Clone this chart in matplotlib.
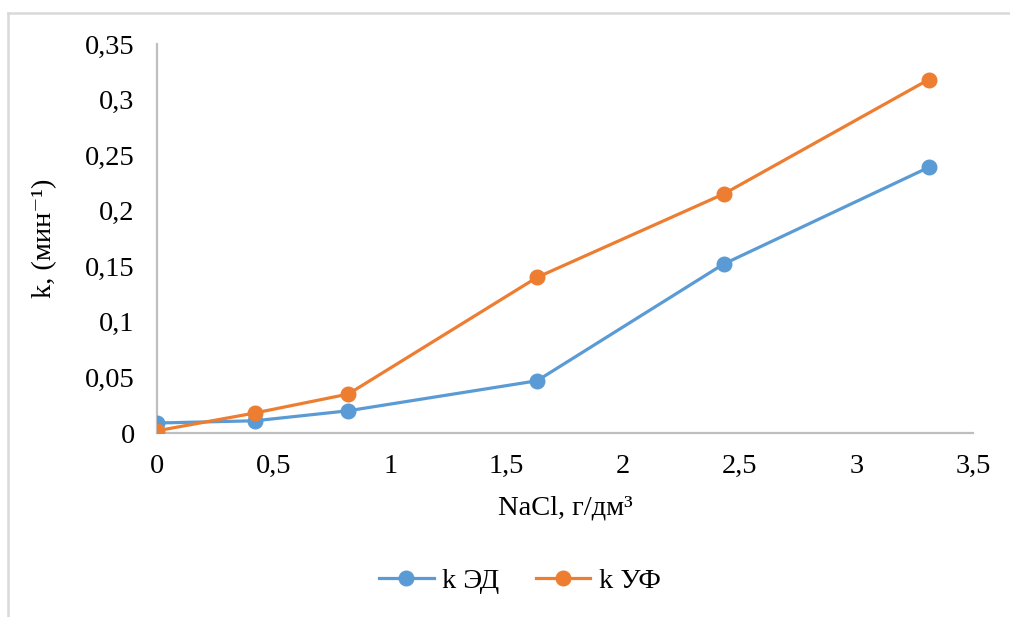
import matplotlib
matplotlib.use("Agg")
import matplotlib.pyplot as plt
from matplotlib.lines import Line2D
from matplotlib.ticker import FuncFormatter, MultipleLocator

nacl = [0, 0.42, 0.82, 1.63, 2.43, 3.31]
k_ed = [0.009, 0.011, 0.020, 0.047, 0.152, 0.239]
k_uf = [0.002, 0.018, 0.035, 0.140, 0.215, 0.318]
series_names = ["k ЭД", "k УФ"]
x_label = "NaCl, г/дм³"
y_label = "k, (мин⁻¹)"

plt.rcParams['font.family'] = ['Liberation Serif', 'DejaVu Serif']

fig = plt.figure(figsize=(10.10, 6.17), dpi=100)
ax = fig.add_axes([0.1554, 0.2982, 0.808, 0.6305])

blue = '#5B9BD5'
orange = '#ED7D31'
ax.plot(nacl, k_ed, color=blue, lw=2.3, marker='o', ms=10.5, label=series_names[0], zorder=3)
ax.plot(nacl, k_uf, color=orange, lw=2.3, marker='o', ms=10.5, label=series_names[1], zorder=4)

ax.set_xlim(0, 3.5)
ax.set_ylim(0, 0.35)
ax.xaxis.set_major_locator(MultipleLocator(0.5))
ax.yaxis.set_major_locator(MultipleLocator(0.05))
fmt = FuncFormatter(lambda v, p: ('%g' % round(v, 3)).replace('.', ','))
ax.xaxis.set_major_formatter(fmt)
ax.yaxis.set_major_formatter(fmt)

for s in ['top', 'right']:
    ax.spines[s].set_visible(False)
for s in ['left', 'bottom']:
    ax.spines[s].set_color('#BFBFBF')
    ax.spines[s].set_linewidth(1.6)
ax.tick_params(length=0, labelsize=20.5, colors='black')
ax.tick_params(axis='x', pad=15)
ax.tick_params(axis='y', pad=16)

ax.set_xlabel(x_label, fontsize=20.5, labelpad=12)
ax.set_ylabel(y_label, fontsize=20.5, labelpad=20)

leg = fig.legend(loc='center', bbox_to_anchor=(0.515, 0.058), ncol=2, frameon=False,
                 fontsize=20.5, handlelength=1.9, columnspacing=1.3, handletextpad=0.3)

# outer chart frame
fig.add_artist(Line2D([0.008, 0.008], [0.0, 0.979], transform=fig.transFigure, color='#D9D9D9', lw=1.8))
fig.add_artist(Line2D([0.008, 1.0], [0.979, 0.979], transform=fig.transFigure, color='#D9D9D9', lw=1.8))

fig.savefig('out.png', dpi=100)
